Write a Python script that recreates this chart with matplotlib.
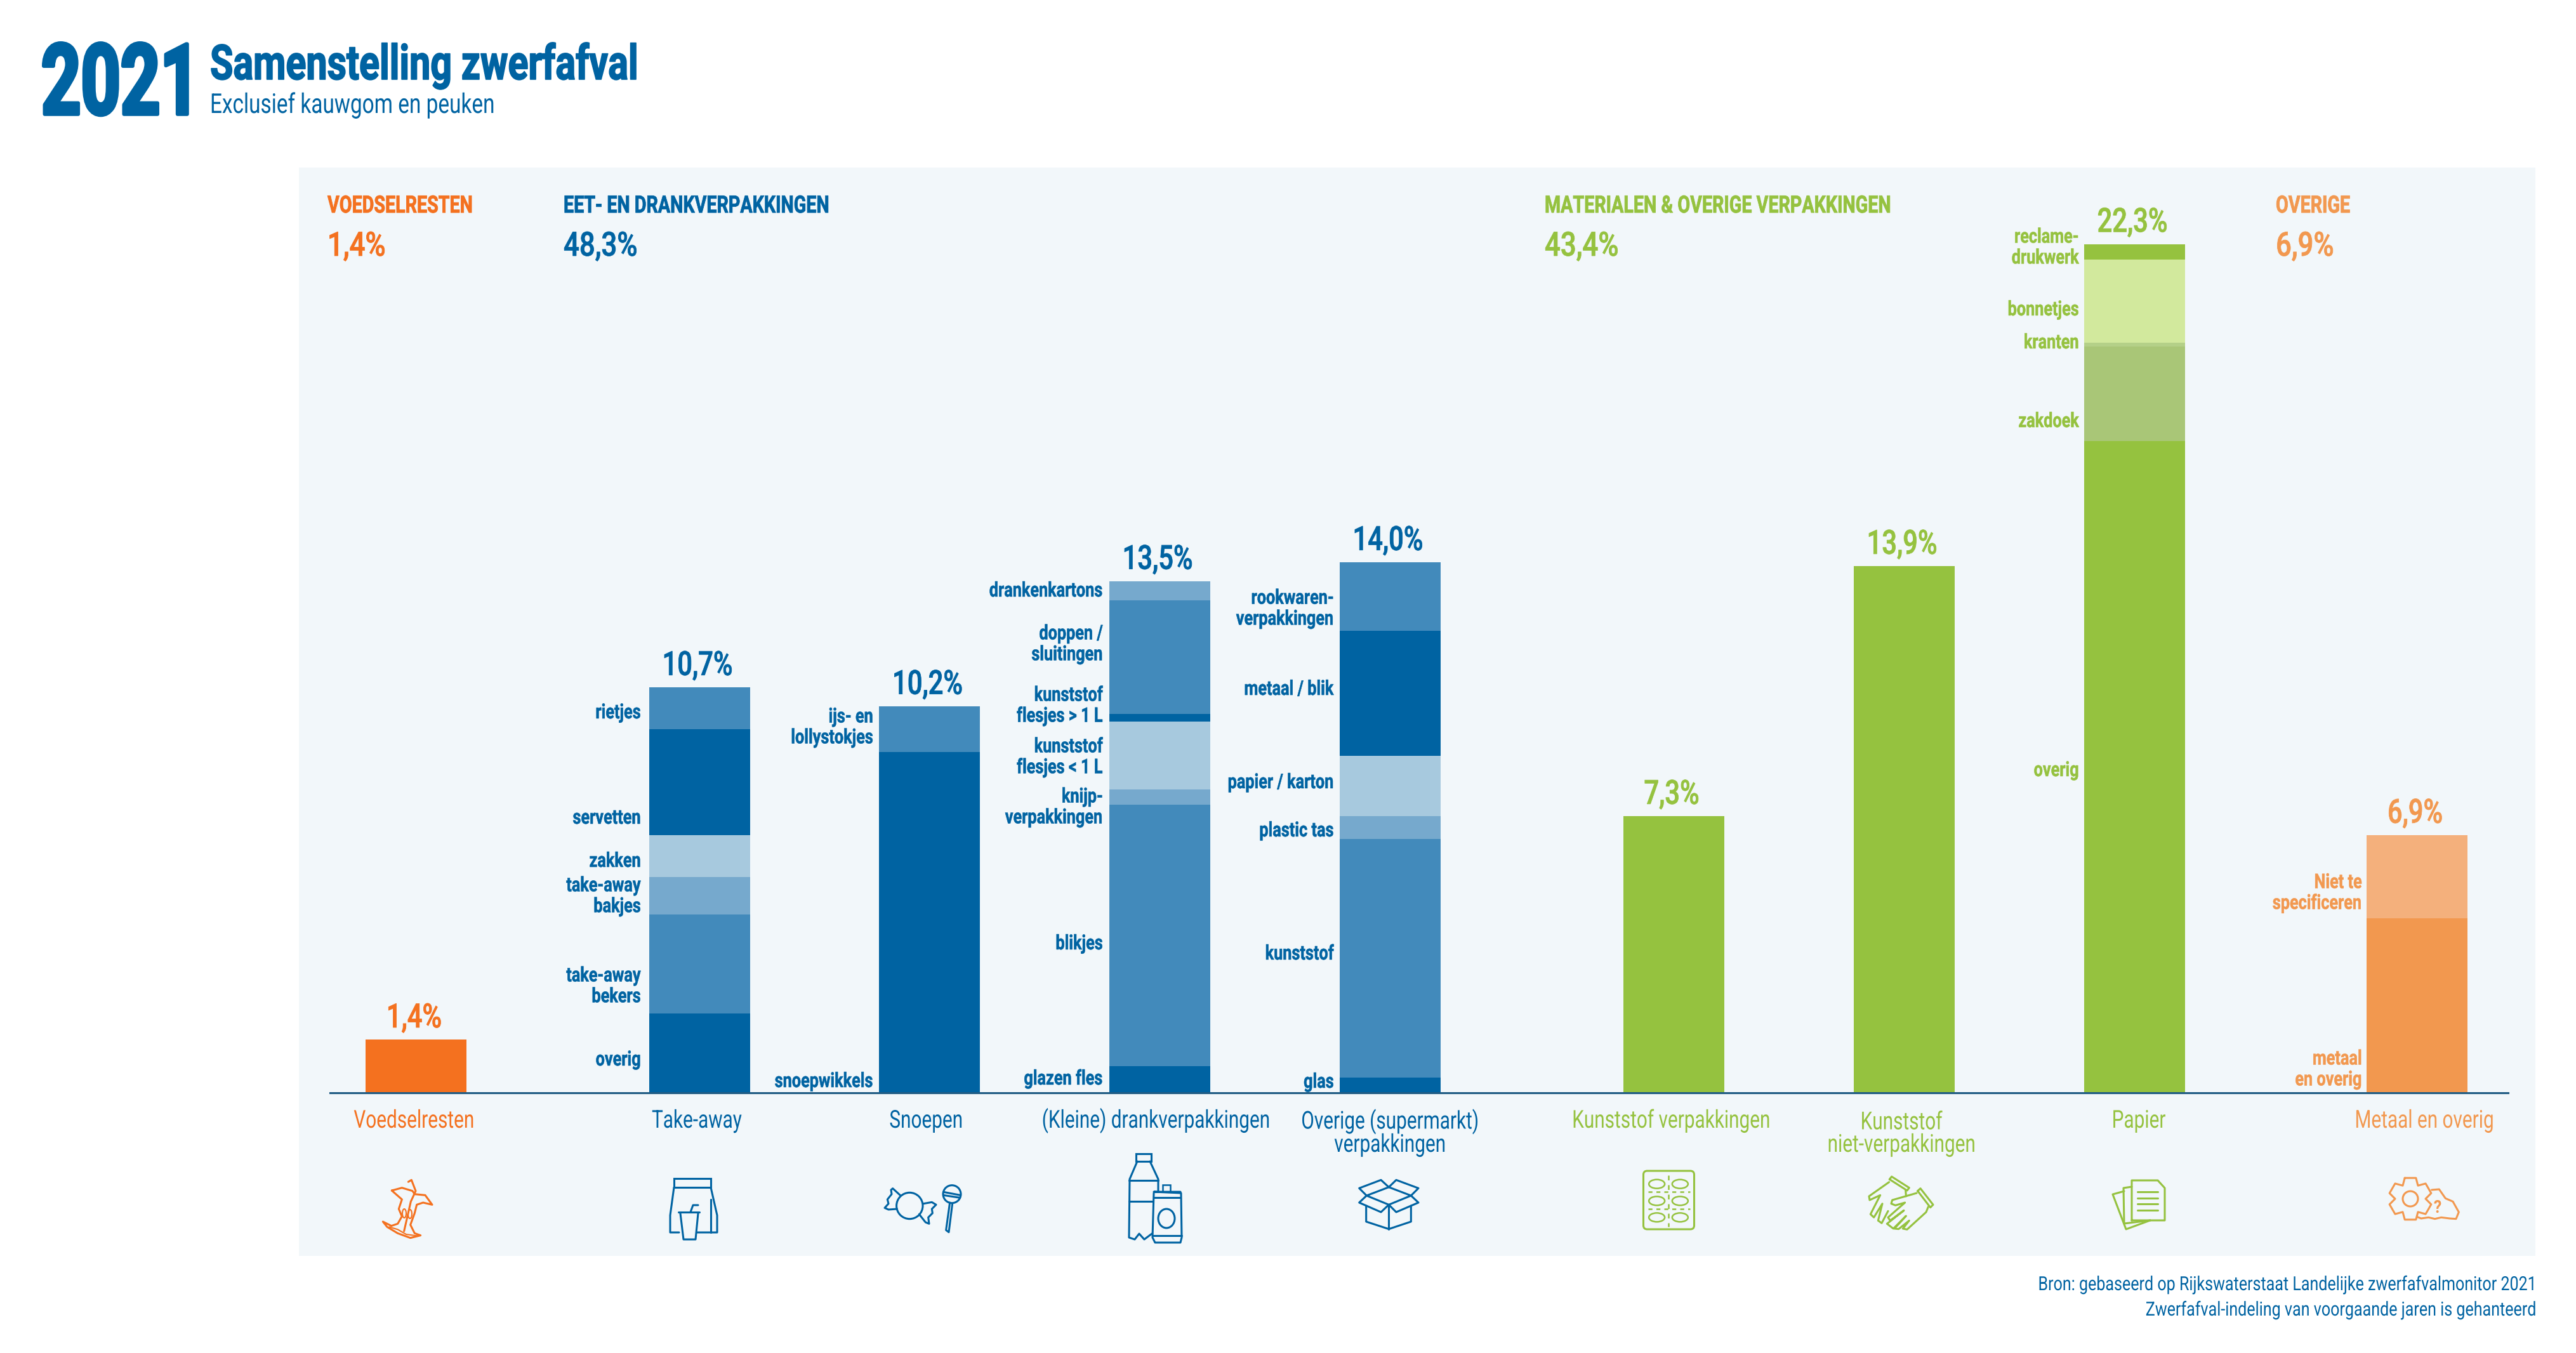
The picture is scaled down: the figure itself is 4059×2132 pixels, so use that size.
import numpy as np
import matplotlib
matplotlib.use("Agg")
import matplotlib.pyplot as plt
from matplotlib.patches import Ellipse, Rectangle, FancyBboxPatch
from matplotlib.patheffects import AbstractPathEffect
from matplotlib.transforms import Affine2D

plt.rcParams['font.family'] = ['Roboto', 'DejaVu Sans']

# data
categories = ["Voedselresten", "Take-away", "Snoepen", "(Kleine) drankverpakkingen",
              "Overige (supermarkt)\nverpakkingen", "Kunststof verpakkingen",
              "Kunststof\nniet-verpakkingen", "Papier", "Metaal en overig"]
total_labels = ["1,4%", "10,7%", "10,2%", "13,5%", "14,0%", "7,3%", "13,9%", "22,3%", "6,9%"]

# bottom to top
voedsel_vals = [1.4]
takeaway_vals = [2.1, 2.6, 1.0, 1.1, 2.8, 1.1]
snoepen_vals = [9.0, 1.2]
drank_vals = [0.7, 6.9, 0.4, 1.8, 0.2, 3.0, 0.5]
overige_vals = [0.4, 6.3, 0.6, 1.6, 3.3, 1.8]
kverp_vals = [7.3]
kniet_vals = [13.9]
papier_vals = [17.2, 2.5, 0.1, 2.2, 0.4]
metaal_vals = [4.6, 2.2]

takeaway_labels = ["overig", "take-away\nbekers", "take-away\nbakjes", "zakken", "servetten", "rietjes"]
snoepen_labels = ["snoepwikkels", "ijs- en\nlollystokjes"]
drank_labels = ["glazen fles", "blikjes", "knijp-\nverpakkingen", "kunststof\nflesjes < 1 L",
                "kunststof\nflesjes > 1 L", "doppen /\nsluitingen", "drankenkartons"]
overige_labels = ["glas", "kunststof", "plastic tas", "papier / karton", "metaal / blik",
                  "rookwaren-\nverpakkingen"]
papier_labels = ["overig", "zakdoek", "kranten", "bonnetjes", "reclame-\ndrukwerk"]
metaal_labels = ["metaal\nen overig", "Niet te\nspecificeren"]

group_names = ["VOEDSELRESTEN", "EET- EN DRANKVERPAKKINGEN", "MATERIALEN & OVERIGE VERPAKKINGEN", "OVERIGE"]
group_values = ["1,4%", "48,3%", "43,4%", "6,9%"]

# colours
BLUE, BLUE2, BLUE3, BLUE4 = "#0063a2", "#428abb", "#76a9cd", "#a7c9de"
GREEN, GREEN2, GREEN3, GREEN4 = "#95c23f", "#a9c677", "#b4d088", "#d2e99d"
ORANGE, ORANGE2, ORANGE3 = "#f4711f", "#f2984f", "#f4b07c"
PANEL = "#f2f7fa"

voedsel_cols = [ORANGE]
takeaway_cols = [BLUE, BLUE2, BLUE3, BLUE4, BLUE, BLUE2]
snoepen_cols = [BLUE, BLUE2]
drank_cols = [BLUE, BLUE2, BLUE3, BLUE4, BLUE, BLUE2, BLUE3]
overige_cols = [BLUE, BLUE2, BLUE3, BLUE4, BLUE, BLUE2]
papier_cols = [GREEN, GREEN2, GREEN3, GREEN4, GREEN]
metaal_cols = [ORANGE2, ORANGE3]

# layout, in pixels of the picture
W, H = 4059, 2132
BASE = 1722
PX_PER_PCT = 59.7
bar_x = [655.5, 1102, 1464.5, 1827, 2190, 2637, 3000, 3363, 3808.5]
bar_w = 159
cat_x = [652, 1098, 1459, 1821, 2190, 2633, 2996, 3370, 3820]
text_cols = [ORANGE, BLUE, BLUE, BLUE, BLUE, GREEN, GREEN, GREEN, ORANGE2]

fig = plt.figure(figsize=(W / 100, H / 100), dpi=100)

ov = fig.add_axes([0, 0, 1, 1], zorder=0)
ov.set_xlim(0, W)
ov.set_ylim(H, 0)
ov.axis("off")
ov.add_patch(Rectangle((471, 264), 3995 - 471, 1979 - 264, fc=PANEL, ec="none"))

ax = fig.add_axes([520 / W, (H - BASE) / H, (3952 - 520) / W, 24 * PX_PER_PCT / H], zorder=1)
ax.patch.set_alpha(0)
ax.set_xlim(520, 3952)
ax.set_ylim(0, 24)
for s in ["top", "left", "right"]:
    ax.spines[s].set_visible(False)
ax.spines["bottom"].set_color("#1b6aa0")
ax.spines["bottom"].set_linewidth(2.2)
ax.set_xticks([])
ax.set_yticks([])


class Squeeze(AbstractPathEffect):
    # narrows text around its anchor, none of the installed fonts is condensed
    def __init__(self, sx, x0, stroke=0, sy=1, y0=0):
        super().__init__()
        self.sx, self.x0, self.stroke, self.sy, self.y0 = sx, x0, stroke, sy, y0

    def draw_path(self, renderer, gc, tpath, affine, rgbFace=None):
        t = affine + Affine2D().translate(-self.x0, -self.y0).scale(self.sx, self.sy).translate(self.x0, self.y0)
        gc0 = renderer.new_gc()
        gc0.copy_properties(gc)
        if self.stroke:
            gc0.set_linewidth(self.stroke)
            gc0.set_foreground(rgbFace)
        else:
            gc0.set_linewidth(0)
        renderer.draw_path(gc0, tpath, t, rgbFace)
        gc0.restore()


def txt(x, y, s, size, color, weight="normal", ha="left", va="baseline", sx=0.72, ls=1.2, stroke=0, sy=1):
    t = ov.text(x, y, s, fontsize=size, color=color, fontweight=weight, ha=ha, va=va, linespacing=ls)
    t.set_path_effects([Squeeze(sx, x, stroke, sy, H - y)])
    return t


# title
txt(65, 180, "2021", 82, BLUE, "bold", sx=0.956, sy=1.366, stroke=4)
txt(331, 125, "Samenstelling zwerfafval", 55, BLUE, "bold", sx=0.775, stroke=1.2)
txt(331, 178, "Exclusief kauwgom en peuken", 31, BLUE, sx=0.775)

# group headers
group_x = [516, 888, 2434, 3586]
group_cols = [ORANGE, BLUE, GREEN, ORANGE2]
for x, n, v, c in zip(group_x, group_names, group_values, group_cols):
    txt(x, 335, n, 27, c, "bold", sx=0.765, stroke=0.6)
    txt(x, 403, v, 38, c, "medium", sx=0.83, stroke=0.6)

# bars
all_vals = [voedsel_vals, takeaway_vals, snoepen_vals, drank_vals, overige_vals,
            kverp_vals, kniet_vals, papier_vals, metaal_vals]
all_cols = [voedsel_cols, takeaway_cols, snoepen_cols, drank_cols, overige_cols,
            [GREEN], [GREEN], papier_cols, metaal_cols]
for i, vals in enumerate(all_vals):
    bottom = 0
    for v, c in zip(vals, all_cols[i]):
        ax.bar(bar_x[i], v, bottom=bottom, width=bar_w, color=c, zorder=2, clip_on=False)
        bottom += v
    a = ax.annotate(total_labels[i], (bar_x[i] - 3, bottom), xytext=(0, 14), textcoords="offset points",
                    ha="center", va="baseline", fontsize=38, fontweight="medium", color=text_cols[i])
    a.set_path_effects([Squeeze(0.79, bar_x[i] - 3, 0.6)])
    y = 1777 + 38 * categories[i].count("\n")
    txt(cat_x[i], y, categories[i], 28, text_cols[i], ha="center", va="baseline", sx=0.765, ls=0.95)
ax.axhline(0, color="#333333", lw=2.2, alpha=0.25, zorder=5, clip_on=False)

# segment labels
seg_right = [1010, 1376, 1738, 2102, 3276, 3722]
seg_labels = [takeaway_labels, snoepen_labels, drank_labels, overige_labels, papier_labels, metaal_labels]
seg_y = [[1670, 1554, 1412, 1357, 1289, 1123],
         [1704, 1146],
         [1700, 1487, 1272, 1193, 1112, 1015, 931],
         [1705, 1503, 1309, 1233, 1086, 959],
         [1214, 664, 540, 488, 390],
         [1685, 1407]]
seg_cols = [BLUE, BLUE, BLUE, BLUE, GREEN, ORANGE2]
for r, labs, ys, c in zip(seg_right, seg_labels, seg_y, seg_cols):
    for lab, y in zip(labs, ys):
        txt(r, y, lab, 23, c, "bold", ha="right", va="center", sx=0.79, ls=1.12, stroke=0.4)

# source
txt(3996, 2033, "Bron: gebaseerd op Rijkswaterstaat Landelijke zwerfafvalmonitor 2021", 22, BLUE, ha="right", sx=0.82)
txt(3996, 2073, "Zwerfafval-indeling van voorgaande jaren is gehanteerd", 22, BLUE, ha="right", sx=0.82)


# icons
def ln(pts, c, lw=2.2, **kw):
    pts = np.array(pts, dtype=float)
    ov.plot(pts[:, 0], pts[:, 1], color=c, lw=lw, solid_joinstyle="round", solid_capstyle="round", **kw)


def z(pts, x0, y0):
    return [(x0 + a / 3, y0 + b / 3) for a, b in pts]


def oval(x, y, rx, ry, c, lw=2.2, angle=0):
    ov.add_patch(Ellipse((x, y), rx * 2, ry * 2, angle=angle, fc="none", ec=c, lw=lw))


# apple core
ln(z([(532, 828), (580, 815), (630, 830), (640, 845), (690, 850), (723, 895), (680, 885), (650, 895), (640, 935),
      (620, 990), (640, 1030), (668, 1040), (620, 1052), (560, 1030), (510, 1000), (490, 975), (530, 995),
      (560, 985), (580, 950), (565, 915), (580, 870), (532, 828)], 440, 1600), ORANGE)
ln(z([(610, 787), (625, 778), (645, 830), (622, 880), (590, 1020)], 440, 1600), ORANGE)
ln(z([(520, 1000), (560, 1012), (600, 1035), (650, 1042)], 440, 1600), ORANGE, lw=1.5)
oval(637, 1912, 3, 7, ORANGE, 1.5)
oval(646, 1913, 3, 7, ORANGE, 1.5)

# take-away bag and cup
ov.add_patch(Rectangle((1062, 1857), 58, 14, fc="none", ec=BLUE, lw=2.2))
ln([(1062, 1871), (1056, 1915), (1056, 1942), (1070, 1942)], BLUE)
ln([(1120, 1871), (1130, 1915), (1130, 1942), (1098, 1942)], BLUE)
ln([(1120, 1890), (1120, 1942)], BLUE)
ln([(1069, 1910), (1102, 1910)], BLUE)
ln([(1072, 1912), (1077, 1953), (1096, 1953), (1100, 1912)], BLUE)
ln([(1088, 1910), (1092, 1899), (1100, 1899)], BLUE)

# candy and lollipop
oval(1433.3, 1900, 20.7, 20.7, BLUE)
ln(z([(115, 100), (80, 68), (72, 75), (75, 95), (55, 120), (60, 140), (42, 160), (60, 168), (100, 165)], 1380, 1850), BLUE)
ln(z([(225, 140), (265, 133), (285, 145), (265, 165), (268, 185), (248, 205), (252, 235), (235, 228), (205, 190)], 1380, 1850), BLUE)
oval(1500, 1881.7, 14, 14, BLUE)
ln(z([(320, 85), (400, 100)], 1380, 1850), BLUE)
ln(z([(320, 100), (398, 112)], 1380, 1850), BLUE)
ln(z([(350, 135), (332, 265), (345, 275), (362, 140)], 1380, 1850), BLUE)

# bottle and can
ov.add_patch(Rectangle((1790, 1818), 24, 12, fc="none", ec=BLUE, lw=2.2))
ln([(1792, 1830), (1780, 1858), (1779, 1950), (1788, 1953), (1795, 1944), (1803, 1953), (1815, 1944)], BLUE)
ln([(1812, 1830), (1825, 1858), (1825, 1877)], BLUE)
ln([(1779, 1860), (1825, 1860)], BLUE)
ln([(1779, 1893), (1816, 1893)], BLUE)
ln([(1818, 1880), (1816, 1950), (1820, 1958), (1860, 1958), (1862, 1950), (1861, 1880), (1818, 1878), (1860, 1878)], BLUE)
ln([(1816, 1947), (1862, 1947)], BLUE)
ln([(1818, 1887), (1860, 1887)], BLUE)
ov.add_patch(Rectangle((1832, 1867), 12, 11, fc="none", ec=BLUE, lw=1.8))
oval(1838, 1920, 13, 15, BLUE)

# box
box = [[(205, 92), (310, 132), (205, 175), (100, 132), (205, 92)],
       [(100, 132), (65, 97), (168, 58), (205, 92), (240, 58), (345, 97), (310, 132)],
       [(100, 132), (65, 165), (168, 210), (205, 175), (240, 210), (345, 165), (310, 132)],
       [(98, 180), (98, 255), (205, 290), (310, 255), (310, 180)],
       [(205, 175), (205, 290)]]
for b in box:
    ln(z(b, 2120, 1840), BLUE)

# blister pack
ov.add_patch(FancyBboxPatch((2589.5, 1845), 80, 92, boxstyle="round,pad=0,rounding_size=6", fc="none", ec=GREEN, lw=2.2))
for py in [107, 187, 265]:
    oval(2570 + 122 / 3, 1830 + py / 3, 12.5, 7, GREEN, 1.8)
    oval(2570 + 232 / 3, 1830 + py / 3, 12.5, 7, GREEN, 1.8)
for py in [143, 224]:
    ln(z([(80, py), (280, py)], 2570, 1830), GREEN, lw=1.8, ls=(0, (2.5, 2.5)))
ln(z([(178, 65), (178, 310)], 2570, 1830), GREEN, lw=1.8, ls=(0, (3, 3)))

# hands
hands = [[(172, 85), (182, 72), (265, 125), (255, 138), (172, 85)],
         [(170, 98), (75, 165), (78, 183), (128, 160), (82, 250), (98, 265), (138, 200), (118, 280), (135, 292),
          (165, 235)],
         [(248, 135), (250, 165)],
         [(305, 140), (318, 128), (378, 205), (365, 218), (305, 140)],
         [(300, 150), (185, 183), (180, 200), (200, 208), (245, 195), (165, 265), (175, 280), (240, 232),
          (160, 295), (190, 318), (250, 258), (195, 318), (215, 320), (265, 280), (235, 318), (255, 322),
          (345, 240), (355, 215)]]
for h in hands:
    ln(z(h, 2920, 1830), GREEN)

# paper
ln([(3359, 1923), (3359, 1860), (3400, 1860), (3411, 1872), (3411, 1923), (3359, 1923)], GREEN)
for py in [1878, 1888, 1897, 1907]:
    ln([(3368, py), (3400, py)], GREEN)
ln([(3359, 1870), (3346, 1872), (3347, 1928), (3388, 1923)], GREEN)
ln([(3347, 1877), (3329, 1882), (3350, 1937), (3388, 1923)], GREEN)

# gear and cloud
ang = np.deg2rad(np.array([-105, -75, -60, -45, -15, 0, 15, 45, 60, 75, 105, 120, 135, 165, 180, 195, 225, 240, 255]))
rad = np.array([34, 34, 24, 34, 34, 24, 34, 34, 24, 34, 34, 24, 34, 34, 24, 34, 34, 24, 34])
ln(np.c_[3798 + rad * np.cos(ang), 1889 + rad * np.sin(ang)], ORANGE2)
oval(3798, 1889, 12, 12, ORANGE2)
ln(z([(395, 825), (430, 822), (460, 865), (495, 880), (523, 930), (510, 962), (480, 960), (440, 955), (410, 962),
      (380, 955), (345, 960), (325, 952)], 3700, 1600), ORANGE2)
txt(3841, 1911, "?", 20, ORANGE2, "bold", ha="center", sx=0.9)

fig.savefig("out.png", dpi=100, facecolor="white")
